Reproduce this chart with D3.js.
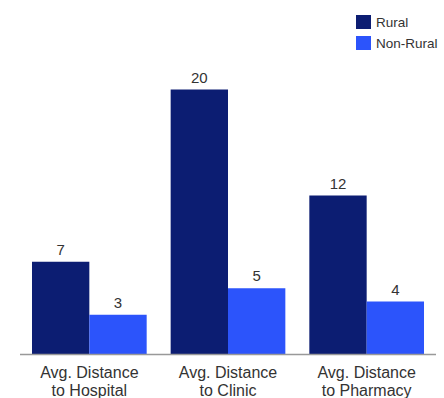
<!DOCTYPE html>
<html>
<head>
<meta charset="utf-8">
<script src="https://cdn.jsdelivr.net/npm/d3@7"></script>
<style>
  html, body { margin: 0; padding: 0; background: #fff; }
  svg { display: block; font-family: Arial, "Liberation Sans", sans-serif; }
</style>
</head>
<body>
<svg id="chart" width="444" height="398"></svg>
<script>
// Average travel distance by facility type
const categories = [["Avg. Distance", "to Hospital"], ["Avg. Distance", "to Clinic"], ["Avg. Distance", "to Pharmacy"]];
const seriesNames = ["Rural", "Non-Rural"];
const rural = [7, 20, 12];
const nonRural = [3, 5, 4];
const colors = ["#0c1d72", "#2c54fb"];

const svg = d3.select("#chart");
const plotBottom = 354.5, plotTop = 89.5;

const x0 = d3.scaleBand()
  .domain(d3.range(categories.length))
  .range([20, 436])
  .paddingInner(0.173)
  .paddingOuter(0.0865);

const x1 = d3.scaleBand()
  .domain(seriesNames)
  .range([0, x0.bandwidth()]);

const y = d3.scaleLinear()
  .domain([0, d3.max(rural.concat(nonRural))])
  .range([plotBottom, plotTop]);

const rows = categories.map((c, i) => ({ i, values: [rural[i], nonRural[i]] }));

const groups = svg.append("g").selectAll("g")
  .data(rows)
  .join("g")
  .attr("transform", d => `translate(${x0(d.i)},0)`);

groups.selectAll("rect")
  .data(d => d.values.map((v, k) => ({ name: seriesNames[k], v, k })))
  .join("rect")
  .attr("x", d => x1(d.name))
  .attr("width", x1.bandwidth())
  .attr("y", d => y(d.v))
  .attr("height", d => plotBottom - y(d.v))
  .attr("fill", d => colors[d.k]);

groups.selectAll("text.val")
  .data(d => d.values.map((v, k) => ({ name: seriesNames[k], v, k })))
  .join("text")
  .attr("class", "val")
  .attr("x", d => x1(d.name) + x1.bandwidth() / 2)
  .attr("y", d => y(d.v) - 7)
  .attr("text-anchor", "middle")
  .attr("font-size", 15)
  .attr("fill", "#333")
  .text(d => d.v);

// baseline axis with wrapped category labels
const axis = svg.append("g")
  .attr("transform", `translate(0,${plotBottom})`)
  .call(d3.axisBottom(x0).tickSize(0).tickFormat(""));
axis.select(".domain").attr("stroke", "#999").attr("stroke-width", 1.5)
  .attr("d", "M20,0H436");

axis.selectAll(".tick text").remove();
axis.selectAll(".tick").each(function(d) {
  const t = d3.select(this).append("text")
    .attr("text-anchor", "middle")
    .attr("font-size", 16)
    .attr("fill", "#333");
  categories[d].forEach((line, j) => {
    t.append("tspan").attr("x", 0).attr("y", 23 + j * 18).text(line);
  });
});

// legend
const legend = svg.append("g").selectAll("g")
  .data(seriesNames)
  .join("g")
  .attr("transform", (d, i) => `translate(356,${15 + i * 21})`);
legend.append("rect").attr("width", 15).attr("height", 14).attr("fill", (d, i) => colors[i]);
legend.append("text").attr("x", 20).attr("y", 11.5)
  .attr("font-size", 13.5).attr("fill", "#333").text(d => d);
</script>
</body>
</html>
